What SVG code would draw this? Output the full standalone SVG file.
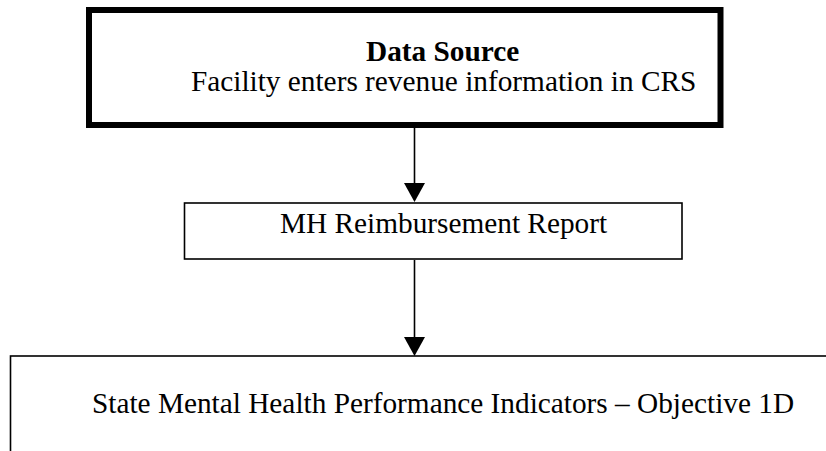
<svg xmlns="http://www.w3.org/2000/svg" width="826" height="451" viewBox="0 0 826 451">
<style>
  .box { fill: #ffffff; stroke: #000000; }
  .t { font-family: "Liberation Serif", "Times New Roman", serif; font-size: 29.3px; fill: #000000; }
  .b { font-weight: bold; }
  .conn line { stroke: #000000; stroke-width: 1.6; }
  .conn polygon { fill: #000000; }
</style>
<rect x="0" y="0" width="826" height="451" fill="#ffffff"/>
<g id="data-source">
  <rect class="box" x="89" y="10" width="631.5" height="115" stroke-width="6"/>
  <text class="t b" x="366" y="61">Data Source</text>
  <text class="t" x="191" y="91">Facility enters revenue information in CRS</text>
</g>
<g id="mh-report">
  <rect class="box" x="184.5" y="203" width="497.5" height="56" stroke-width="1.6"/>
  <text class="t" x="280" y="233">MH Reimbursement Report</text>
</g>
<g id="performance-indicators">
  <rect class="box" x="10.5" y="356" width="830" height="200" stroke-width="1.6"/>
  <text class="t" x="92" y="413">State Mental Health Performance Indicators – Objective 1D</text>
</g>
<g id="connectors" class="conn">
  <line x1="414.5" y1="128" x2="414.5" y2="185"/>
  <polygon points="404,183 425,183 414.5,202"/>
  <line x1="414.5" y1="260" x2="414.5" y2="339"/>
  <polygon points="404,337 425,337 414.5,356"/>
</g>
</svg>
